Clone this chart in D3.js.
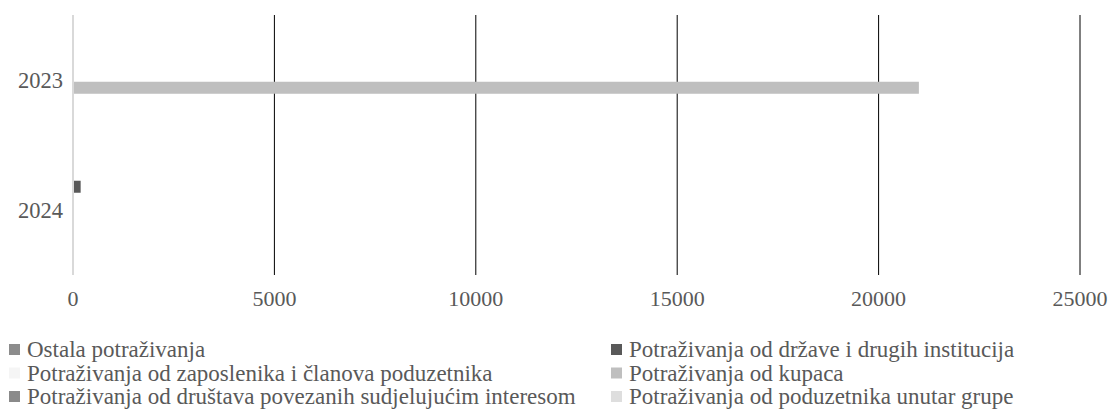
<!DOCTYPE html>
<html>
<head>
<meta charset="utf-8">
<style>
body { margin: 0; background: #fff; }
text { font-family: "Liberation Serif", "Times New Roman", serif; fill: #595959; }
</style>
</head>
<body>
<script src="https://d3js.org/d3.v7.min.js"></script>
<script>
// data
var years = ["2023", "2024"];
var seriesNames = [
    "Ostala potraživanja",
    "Potraživanja od države i drugih institucija",
    "Potraživanja od zaposlenika i članova poduzetnika",
    "Potraživanja od kupaca",
    "Potraživanja od društava povezanih sudjelujućim interesom",
    "Potraživanja od poduzetnika unutar grupe"
];
var seriesColors = ["#8c8c8c", "#595959", "#f5f5f5", "#bfbfbf", "#8a8a8a", "#dedede"];
// values per series, in order of years
var ostala      = [0, 0];
var drzava      = [0, 190];
var zaposlenici = [0, 0];
var kupci       = [21000, 0];
var drustva     = [0, 0];
var grupa       = [0, 0];
var xTicks = [0, 5000, 10000, 15000, 20000, 25000];

var seriesValues = [ostala, drzava, zaposlenici, kupci, drustva, grupa];

var W = 1114, H = 412;
var margin = {top: 15, right: 34, bottom: 137, left: 73};

var svg = d3.select("body").append("svg")
    .attr("width", W)
    .attr("height", H);

var x = d3.scaleLinear()
    .domain([0, 25000])
    .range([margin.left, W - margin.right]);

var y0 = d3.scaleBand()
    .domain(years)
    .range([margin.top, H - margin.bottom]);

var y1 = d3.scaleBand()
    .domain(d3.range(seriesNames.length))
    .range([0, y0.bandwidth()])
    .paddingInner(0.226)
    .paddingOuter(1.306);

// gridlines
svg.append("g").selectAll("line")
    .data(xTicks.slice(1))
    .enter().append("line")
    .attr("x1", function(d) { return x(d); })
    .attr("x2", function(d) { return x(d); })
    .attr("y1", margin.top)
    .attr("y2", H - margin.bottom)
    .attr("stroke", "#000")
    .attr("stroke-width", 1);

// bars
var group = svg.append("g").selectAll("g")
    .data(years)
    .enter().append("g")
    .attr("transform", function(d) { return "translate(0," + y0(d) + ")"; });

group.selectAll("rect")
    .data(function(d, yi) {
        return seriesValues.map(function(vals, si) { return {s: si, v: vals[yi]}; });
    })
    .enter().append("rect")
    .filter(function(d) { return d.v > 0; })
    .attr("x", x(0))
    .attr("y", function(d) { return y1(d.s); })
    .attr("width", function(d) { return x(d.v) - x(0); })
    .attr("height", y1.bandwidth())
    .attr("fill", function(d) { return seriesColors[d.s]; });

// category axis line at 0
svg.append("line")
    .attr("x1", x(0)).attr("x2", x(0))
    .attr("y1", margin.top).attr("y2", H - margin.bottom)
    .attr("stroke", "#d9d9d9")
    .attr("stroke-width", 2);

// x tick labels
svg.append("g").selectAll("text")
    .data(xTicks)
    .enter().append("text")
    .attr("x", function(d) { return x(d); })
    .attr("y", 306)
    .attr("text-anchor", "middle")
    .style("font-size", "22px")
    .text(function(d) { return d; });

// y labels
svg.append("g").selectAll("text")
    .data(years)
    .enter().append("text")
    .attr("x", 63)
    .attr("y", function(d) { return y0(d) + y0.bandwidth() / 2 + 8; })
    .attr("text-anchor", "end")
    .style("font-size", "22.5px")
    .text(function(d) { return d; });

// legend, two columns
var legend = svg.append("g").selectAll("g")
    .data(seriesNames)
    .enter().append("g")
    .attr("transform", function(d, i) {
        var col = i % 2, row = Math.floor(i / 2);
        return "translate(" + (col ? 611 : 9) + "," + (357 + row * 23.5) + ")";
    });

legend.append("rect")
    .attr("y", -13)
    .attr("width", 11)
    .attr("height", 11)
    .attr("fill", function(d, i) { return seriesColors[i]; });

legend.append("text")
    .attr("x", 18)
    .style("font-size", "23px")
    .text(function(d) { return d; });
</script>
</body>
</html>
